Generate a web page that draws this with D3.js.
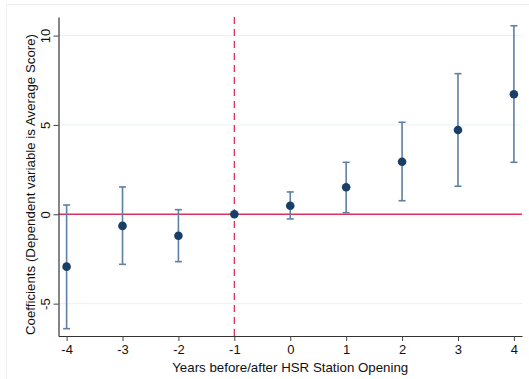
<!DOCTYPE html>
<html>
<head>
<meta charset="utf-8">
<script src="https://cdn.jsdelivr.net/npm/d3@7"></script>
<style>
  html, body { margin: 0; padding: 0; background: #fff; }
  svg { display: block; font-family: "Liberation Sans", Arial, sans-serif; }
</style>
</head>
<body>
<svg id="chart" width="529" height="379"></svg>
<script>
// Event-study coefficients with 95% confidence intervals
const years = [-4, -3, -2, -1, 0, 1, 2, 3, 4];
const coefs = [-2.93, -0.65, -1.2, 0, 0.48, 1.51, 2.94, 4.72, 6.72];
const lower = [-6.4, -2.8, -2.65, 0, -0.26, 0.09, 0.76, 1.57, 2.91];
const upper = [0.52, 1.53, 0.26, 0, 1.25, 2.91, 5.15, 7.87, 10.55];
const yTicks = [-5, 0, 5, 10];
const xTicks = [-4, -3, -2, -1, 0, 1, 2, 3, 4];
const refYear = -1;

const data = years.map((yr, i) => ({ yr, b: coefs[i], lo: lower[i], hi: upper[i] }));

const svg = d3.select("#chart");
const W = 529, H = 379;
const m = { left: 58.5, right: 7, top: 17, bottom: 43 };

const x = d3.scaleLinear().domain([-4.145, 4.145]).range([m.left, W - m.right]);
const y = d3.scaleLinear().domain([-6.81, 11.04]).range([H - m.bottom, m.top]);

// plain hyphen for negative labels
const fmt = d => String(d);

// faint outer frame
svg.append("rect")
  .attr("x", 6.5).attr("y", 4.5).attr("width", W - 6).attr("height", H - 4)
  .attr("fill", "none").attr("stroke", "#f0f0f0").attr("stroke-width", 1);

// gridlines
svg.append("g").selectAll("line").data(yTicks).join("line")
  .attr("x1", m.left).attr("x2", W - m.right)
  .attr("y1", d => y(d)).attr("y2", d => y(d))
  .attr("stroke", "#eaf2f3").attr("stroke-width", 1);

// zero reference line
svg.append("line")
  .attr("x1", m.left).attr("x2", W - m.right)
  .attr("y1", y(0)).attr("y2", y(0))
  .attr("stroke", "#e0305a").attr("stroke-width", 1.5);

// vertical reference line at the omitted year
svg.append("line")
  .attr("x1", x(refYear)).attr("x2", x(refYear))
  .attr("y1", m.top).attr("y2", H - m.bottom)
  .attr("stroke", "#e0305a").attr("stroke-width", 1.3)
  .attr("stroke-dasharray", "7,5");

// axes
const xAxis = svg.append("g")
  .attr("transform", `translate(0,${H - m.bottom})`)
  .call(d3.axisBottom(x).tickValues(xTicks).tickSize(5).tickSizeOuter(0).tickFormat(fmt));
const yAxis = svg.append("g")
  .attr("transform", `translate(${m.left},0)`)
  .call(d3.axisLeft(y).tickValues(yTicks).tickSize(5).tickSizeOuter(0).tickFormat(fmt));

[xAxis, yAxis].forEach(g => {
  g.select(".domain").attr("stroke", "#333").attr("stroke-width", 1.2);
  g.selectAll(".tick line").attr("stroke", "#444");
  g.selectAll(".tick text").attr("fill", "#111").attr("font-size", 13)
    .attr("font-family", "Liberation Sans, Arial, sans-serif");
});
xAxis.selectAll(".tick text").attr("dy", "0.71em").attr("y", 9);
yAxis.selectAll(".tick text")
  .attr("transform", "rotate(-90)")
  .attr("x", 0).attr("y", -9)
  .attr("dy", 0)
  .attr("text-anchor", "middle");

// axis titles
svg.append("text")
  .attr("x", (x(-4.145) + x(4.145)) / 2).attr("y", 372)
  .attr("text-anchor", "middle").attr("font-size", 13.3).attr("fill", "#111")
  .text("Years before/after HSR Station Opening");
svg.append("text")
  .attr("transform", `translate(35,${(m.top + H - m.bottom) / 2 + 8}) rotate(-90)`)
  .attr("text-anchor", "middle").attr("font-size", 13.3).attr("fill", "#111")
  .text("Coefficients (Dependent variable is Average Score)");

// confidence intervals
const ci = svg.append("g").attr("stroke", "#5f7fa3").attr("stroke-width", 1.6);
const ciData = data.filter(d => d.hi !== d.lo);
ci.selectAll("line.v").data(ciData).join("line").attr("class", "v")
  .attr("x1", d => x(d.yr)).attr("x2", d => x(d.yr))
  .attr("y1", d => y(d.lo)).attr("y2", d => y(d.hi));
ci.selectAll("line.hi").data(ciData).join("line").attr("class", "hi")
  .attr("x1", d => x(d.yr) - 3.5).attr("x2", d => x(d.yr) + 3.5)
  .attr("y1", d => y(d.hi)).attr("y2", d => y(d.hi));
ci.selectAll("line.lo").data(ciData).join("line").attr("class", "lo")
  .attr("x1", d => x(d.yr) - 3.5).attr("x2", d => x(d.yr) + 3.5)
  .attr("y1", d => y(d.lo)).attr("y2", d => y(d.lo));

// point estimates
svg.append("g").selectAll("circle").data(data).join("circle")
  .attr("cx", d => x(d.yr)).attr("cy", d => y(d.b)).attr("r", 4.3)
  .attr("fill", "#1a3f66");
</script>
</body>
</html>
